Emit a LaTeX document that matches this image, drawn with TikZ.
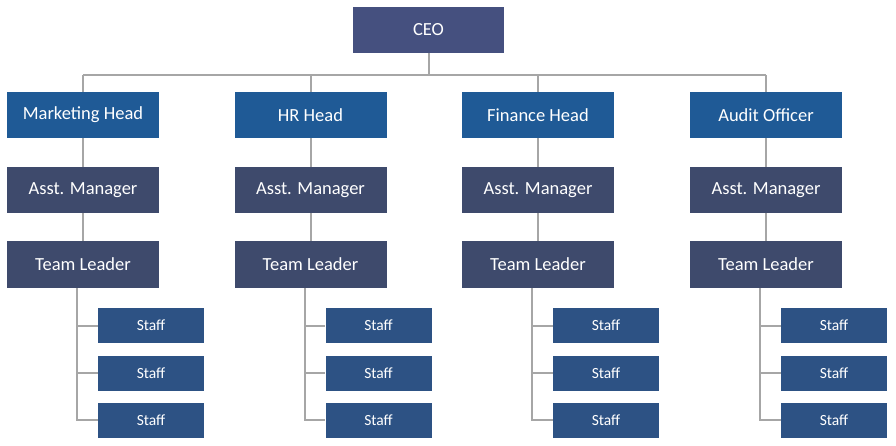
\documentclass[tikz,border=0pt]{standalone}
\usepackage{fontspec}
\setmainfont{Carlito}
\definecolor{ceoc}{HTML}{45507F}
\definecolor{headc}{HTML}{1F5A96}
\definecolor{midc}{HTML}{3E4A6C}
\definecolor{staffc}{HTML}{2D5284}
\definecolor{linec}{HTML}{A6A6A6}
\begin{document}
\begin{tikzpicture}[x=1pt,y=-1pt,
  box/.style={rectangle, text=white, inner sep=0pt, font=\fontsize{18.5}{20}\selectfont},
  ceobox/.style={box, fill=ceoc, minimum width=151pt, minimum height=46pt},
  headbox/.style={box, fill=headc, minimum width=152pt, minimum height=46pt},
  midbox/.style={box, fill=midc, minimum width=152pt, minimum height=46pt},
  staffbox/.style={box, fill=staffc, minimum width=106pt, minimum height=35pt, font=\fontsize{15.5}{17}\selectfont},
  conn/.style={draw=linec, line width=2pt}]
\useasboundingbox[fill=white] (0,0) rectangle (896,446);
\node[ceobox] (ceo) at (428.5,30) {CEO};
\coordinate (bus) at (0,75);
\foreach \i/\l/\h in {1/7/Marketing Head, 2/234.5/HR Head, 3/462/Finance Head, 4/690/Audit Officer} {
  \node[headbox] (h\i) at (\l+76,115) {\h};
  \node[midbox] (a\i) at (\l+76,190) {Asst. Manager};
  \node[midbox] (t\i) at (\l+76,264.5) {Team Leader};
  \node[staffbox] (s\i a) at (\l+144,325.5) {Staff};
  \node[staffbox] (s\i b) at (\l+144,373) {Staff};
  \node[staffbox] (s\i c) at (\l+144,420) {Staff};
  \coordinate (v\i) at (\l+70,288);
}
\draw[conn] (ceo.south) -- (ceo.south |- bus);
\draw[conn] (h1.north |- bus) -- (h4.north |- bus);
\foreach \i in {1,2,3,4} {
  \draw[conn] (h\i.north) -- (h\i.north |- bus);
  \draw[conn] (h\i.south) -- (a\i.north);
  \draw[conn] (a\i.south) -- (t\i.north);
  \draw[conn] (v\i) |- (s\i c.west);
  \draw[conn] (v\i |- s\i a.west) -- (s\i a.west);
  \draw[conn] (v\i |- s\i b.west) -- (s\i b.west);
}
\end{tikzpicture}
\end{document}
